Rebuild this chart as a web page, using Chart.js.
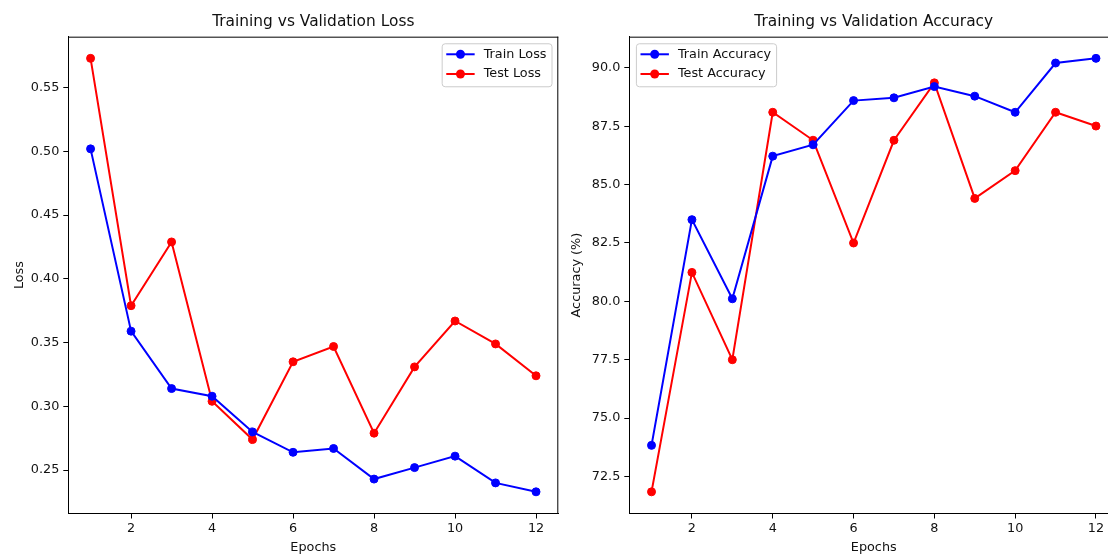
<!DOCTYPE html>
<html>
<head>
<meta charset="utf-8">
<title>Training vs Validation</title>
<script src="https://cdn.jsdelivr.net/npm/chart.js@4.4.1/dist/chart.umd.min.js"></script>
<style>
  html, body { margin: 0; padding: 0; background: #fff; overflow: hidden; }
  #wrap { position: relative; width: 1108px; height: 556px; overflow: hidden; }
  #lossChart { position: absolute; left: 0; top: 0; }
  #accChart { position: absolute; left: 560px; top: 0; }
</style>
</head>
<body>
<div id="wrap">
  <canvas id="lossChart" width="570" height="556"></canvas>
  <canvas id="accChart" width="570" height="556"></canvas>
</div>
<script>
// data
const epochs = [1, 2, 3, 4, 5, 6, 7, 8, 9, 10, 11, 12];
const trainLoss = [0.502, 0.359, 0.314, 0.308, 0.280, 0.264, 0.267, 0.243, 0.252, 0.261, 0.240, 0.233];
const testLoss = [0.573, 0.379, 0.429, 0.304, 0.274, 0.335, 0.347, 0.279, 0.331, 0.367, 0.349, 0.324];
const trainAcc = [73.83, 83.5, 80.11, 86.22, 86.71, 88.6, 88.72, 89.2, 88.79, 88.1, 90.21, 90.41];
const testAcc = [71.84, 81.24, 77.5, 88.1, 86.9, 82.5, 86.9, 89.36, 84.41, 85.6, 88.1, 87.51];

const xTicks = [2, 4, 6, 8, 10, 12];
const lossTicks = [0.25, 0.30, 0.35, 0.40, 0.45, 0.50, 0.55];
const accTicks = [72.5, 75.0, 77.5, 80.0, 82.5, 85.0, 87.5, 90.0];

const FONT = "'DejaVu Sans', sans-serif";
const TEXT = '#111';
const BLUE = '#0000ff';
const RED = '#ff0000';

// matplotlib style 5% margins
function padRange(a, b) {
  const lo = Math.min(...a, ...b), hi = Math.max(...a, ...b);
  const m = (hi - lo) * 0.05;
  return [lo - m, hi + m];
}

function points(ys) {
  return epochs.map((e, i) => ({ x: e, y: ys[i] }));
}

function series(label, ys, color) {
  return {
    label: label,
    data: points(ys),
    borderColor: color,
    backgroundColor: color,
    borderWidth: 2,
    pointRadius: 4,
    pointBorderWidth: 1,
    pointBackgroundColor: color,
    pointBorderColor: color,
    tension: 0
  };
}

// top/right spines + legend box in the corner
const framePlugin = {
  id: 'frame',
  afterDraw(chart) {
    const ctx = chart.ctx;
    const a = chart.chartArea;
    const o = chart.options.plugins.frame;
    ctx.save();
    ctx.strokeStyle = '#000';
    ctx.lineWidth = 1;
    ctx.beginPath();
    ctx.moveTo(a.left, a.top + 0.5);
    ctx.lineTo(a.right, a.top + 0.5);
    if (o.rightSpine) {
      ctx.moveTo(a.right - 0.5, a.top);
      ctx.lineTo(a.right - 0.5, a.bottom);
    }
    ctx.stroke();

    ctx.font = '12.8px ' + FONT;
    const sets = chart.data.datasets;
    let tw = 0;
    sets.forEach(d => { tw = Math.max(tw, ctx.measureText(d.label).width); });
    const w = 4.6 + 28.4 + 9 + tw + 5;
    const h = 43;
    const x0 = o.legendSide === 'right' ? a.right - 6.8 - w : a.left + 6.6;
    const y0 = a.top + 6.6;

    ctx.beginPath();
    ctx.roundRect(x0 + 0.5, y0 + 0.5, w, h, 3);
    ctx.fillStyle = 'rgba(255,255,255,0.8)';
    ctx.fill();
    ctx.strokeStyle = '#cccccc';
    ctx.stroke();

    sets.forEach((d, i) => {
      const y = y0 + 11 + i * 19.7;
      ctx.strokeStyle = d.borderColor;
      ctx.lineWidth = 2;
      ctx.beginPath();
      ctx.moveTo(x0 + 4.6, y);
      ctx.lineTo(x0 + 33, y);
      ctx.stroke();
      ctx.fillStyle = d.borderColor;
      ctx.beginPath();
      ctx.arc(x0 + 18.8, y, 4.5, 0, Math.PI * 2);
      ctx.fill();
      ctx.fillStyle = TEXT;
      ctx.textBaseline = 'middle';
      ctx.textAlign = 'left';
      ctx.fillText(d.label, x0 + 42, y);
    });
    ctx.restore();
  }
};

function makeChart(id, opts) {
  const range = padRange(opts.a, opts.b);
  return new Chart(document.getElementById(id), {
    type: 'line',
    data: {
      datasets: [
        series(opts.labels[0], opts.a, BLUE),
        series(opts.labels[1], opts.b, RED)
      ]
    },
    plugins: [framePlugin],
    options: {
      responsive: false,
      animation: false,
      devicePixelRatio: 1,
      layout: { padding: { left: 0, right: opts.padRight, top: 0, bottom: 0 } },
      plugins: {
        legend: { display: false },
        tooltip: { enabled: false },
        frame: { legendSide: opts.legendSide, rightSpine: opts.rightSpine },
        title: {
          display: true,
          text: opts.title,
          fullSize: false,
          color: TEXT,
          font: { family: FONT, size: 15.4, weight: 'normal', lineHeight: 1.2 },
          padding: { top: 12.4, bottom: 5.8 }
        }
      },
      scales: {
        x: {
          type: 'linear',
          min: 0.45,
          max: 12.55,
          afterBuildTicks: s => { s.ticks = xTicks.map(v => ({ value: v })); },
          afterFit: s => { s.height = 42.5; },
          ticks: {
            color: TEXT,
            padding: 2.7,
            font: { family: FONT, size: 12.8 },
            callback: v => String(v)
          },
          grid: { drawOnChartArea: false, drawTicks: true, tickLength: 5, color: '#000', lineWidth: 1 },
          border: { display: true, color: '#000', width: 1 },
          title: {
            display: true,
            text: 'Epochs',
            color: TEXT,
            font: { family: FONT, size: 12.8, lineHeight: 1.2 },
            padding: { top: 2, bottom: 1.1 }
          }
        },
        y: {
          type: 'linear',
          min: range[0],
          max: range[1],
          afterBuildTicks: s => { s.ticks = opts.ticks.map(v => ({ value: v })); },
          afterFit: s => { s.width = opts.yWidth; },
          ticks: {
            color: TEXT,
            padding: 4,
            font: { family: FONT, size: 12.8 },
            callback: v => v.toFixed(opts.digits)
          },
          grid: { drawOnChartArea: false, drawTicks: true, tickLength: 5, color: '#000', lineWidth: 1 },
          border: { display: true, color: '#000', width: 1 },
          title: {
            display: true,
            text: opts.yLabel,
            color: TEXT,
            font: { family: FONT, size: 12.8, lineHeight: 1.2 },
            padding: { top: opts.yTitlePad, bottom: 2 }
          }
        }
      }
    }
  });
}

makeChart('lossChart', {
  title: 'Training vs Validation Loss',
  labels: ['Train Loss', 'Test Loss'],
  a: trainLoss,
  b: testLoss,
  ticks: lossTicks,
  digits: 2,
  yLabel: 'Loss',
  yWidth: 68.3,
  yTitlePad: 11.7,
  padRight: 11.7,
  legendSide: 'right',
  rightSpine: true
});

// the right panel runs past the picture's edge, as in the original
makeChart('accChart', {
  title: 'Training vs Validation Accuracy',
  labels: ['Train Accuracy', 'Test Accuracy'],
  a: trainAcc,
  b: testAcc,
  ticks: accTicks,
  digits: 1,
  yLabel: 'Accuracy (%)',
  yWidth: 69.3,
  yTitlePad: 9.3,
  padRight: 11.8,
  legendSide: 'left',
  rightSpine: false
});
</script>
</body>
</html>
